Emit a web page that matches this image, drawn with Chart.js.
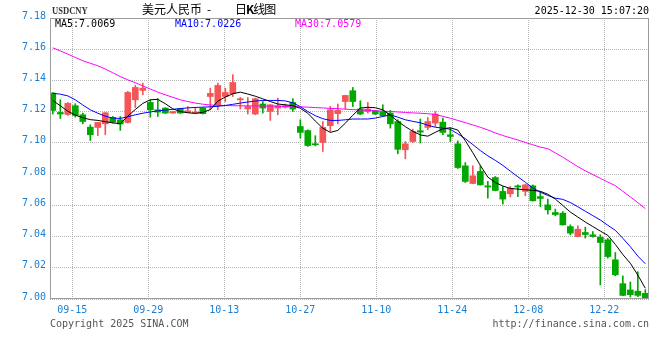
<!DOCTYPE html>
<html>
<head>
<meta charset="utf-8">
<script src="https://cdn.jsdelivr.net/npm/chart.js@4.4.1/dist/chart.umd.min.js"></script>
<style>
html,body{margin:0;padding:0;background:#fff;}
#wrap{position:relative;width:660px;height:360px;overflow:hidden;background:#fff;}
#c{position:absolute;left:0;top:0;}
.t{position:absolute;white-space:pre;font-family:"DejaVu Sans Mono",monospace;font-size:10px;line-height:10px;color:#000;}
.cjk{font-family:"Noto Sans CJK SC",sans-serif;font-size:12px;line-height:12px;}
</style>
</head>
<body>
<div id="wrap">
<canvas id="c" width="660" height="360"></canvas>
<span class="t" style="left:52px;top:5px;font-family:'Liberation Serif',serif;font-weight:bold;font-size:11px;line-height:11px;transform:scaleX(0.78);transform-origin:0 0;color:#333;">USDCNY</span>
<span class="t cjk" style="left:142px;top:3px;">美元人民币</span>
<span class="t cjk" style="left:207px;top:3px;">-</span>
<span class="t cjk" style="left:235px;top:3px;letter-spacing:-1px;">日<b>K</b>线图</span>
<span class="t" style="right:11px;top:6px;">2025-12-30 15:07:20</span>
<span class="t" style="left:55px;top:19px;color:#000;">MA5:7.0069</span>
<span class="t" style="left:175px;top:19px;color:#0000ff;">MA10:7.0226</span>
<span class="t" style="left:295px;top:19px;color:#ff00ff;">MA30:7.0579</span>
<span class="t" style="left:50px;top:319px;color:#555;">Copyright 2025 SINA.COM</span>
<span class="t" style="right:11px;top:319px;color:#555;">http://finance.sina.com.cn</span>
</div>
<script>
// ---- data ----
const dates = [
 '09-10','09-11','09-12','09-15','09-16','09-17','09-18','09-19','09-22','09-23',
 '09-24','09-25','09-26','09-29','09-30','10-01','10-02','10-03','10-06','10-07',
 '10-08','10-09','10-10','10-13','10-14','10-15','10-16','10-17','10-20','10-21',
 '10-22','10-23','10-24','10-27','10-28','10-29','10-30','10-31','11-03','11-04',
 '11-05','11-06','11-07','11-10','11-11','11-12','11-13','11-14','11-17','11-18',
 '11-19','11-20','11-21','11-24','11-25','11-26','11-27','11-28','12-01','12-02',
 '12-03','12-04','12-05','12-08','12-09','12-10','12-11','12-12','12-15','12-16',
 '12-17','12-18','12-19','12-22','12-23','12-24','12-25','12-26','12-29','12-30'
];
const opens = [
 7.1319,7.1195,7.1182,7.1238,7.1180,7.1101,7.1099,7.1122,7.1163,7.1148,
 7.1131,7.1276,7.1336,7.1259,7.1212,7.1223,7.1191,7.1219,7.1195,7.1191,
 7.1223,7.1297,7.1244,7.1297,7.1315,7.1276,7.1217,7.1185,7.1249,7.1201,
 7.1223,7.1229,7.1259,7.1105,7.1079,7.0994,7.1003,7.1110,7.1187,7.1265,
 7.1334,7.1217,7.1201,7.1206,7.1201,7.1191,7.1137,7.0956,7.1009,7.1078,
 7.1099,7.1127,7.1133,7.1052,7.0994,7.0853,7.0740,7.0817,7.0725,7.0778,
 7.0689,7.0674,7.0725,7.0689,7.0725,7.0656,7.0603,7.0554,7.0550,7.0464,
 7.0400,7.0426,7.0411,7.0396,7.0379,7.0251,7.0098,7.0058,7.0050,7.0036
];
const highs = [
 7.1322,7.1276,7.1259,7.1251,7.1191,7.1116,7.1131,7.1195,7.1169,7.1169,
 7.1330,7.1368,7.1383,7.1276,7.1283,7.1226,7.1203,7.1222,7.1233,7.1227,
 7.1225,7.1351,7.1383,7.1351,7.1437,7.1291,7.1291,7.1287,7.1265,7.1246,
 7.1287,7.1249,7.1283,7.1148,7.1084,7.1046,7.1137,7.1233,7.1249,7.1306,
 7.1355,7.1270,7.1259,7.1208,7.1244,7.1208,7.1148,7.1009,7.1088,7.1153,
 7.1163,7.1201,7.1159,7.1095,7.1013,7.0874,7.0853,7.0853,7.0753,7.0785,
 7.0721,7.0721,7.0731,7.0736,7.0731,7.0689,7.0640,7.0576,7.0560,7.0475,
 7.0469,7.0460,7.0432,7.0411,7.0389,7.0298,7.0148,7.0109,7.0175,7.0060
];
const lows = [
 7.1185,7.1156,7.1176,7.1165,7.1122,7.1015,7.1047,7.1052,7.1127,7.1080,
 7.1127,7.1227,7.1308,7.1165,7.1169,7.1188,7.1189,7.1189,7.1193,7.1189,
 7.1185,7.1212,7.1212,7.1265,7.1297,7.1217,7.1185,7.1180,7.1191,7.1144,
 7.1180,7.1223,7.1201,7.1031,7.0977,7.0981,7.0945,7.1073,7.1122,7.1217,
 7.1233,7.1180,7.1191,7.1180,7.1169,7.1095,7.0930,7.0898,7.1003,7.0999,
 7.1084,7.1105,7.1052,7.1009,7.0836,7.0746,7.0738,7.0729,7.0646,7.0693,
 7.0608,7.0653,7.0656,7.0661,7.0627,7.0592,7.0544,7.0533,7.0473,7.0411,
 7.0398,7.0390,7.0396,7.0090,7.0262,7.0148,7.0021,7.0013,7.0015,7.0000
];
const closes = [
 7.1208,7.1185,7.1253,7.1176,7.1137,7.1052,7.1131,7.1193,7.1133,7.1121,
 7.1323,7.1355,7.1351,7.1212,7.1197,7.1191,7.1201,7.1191,7.1206,7.1197,
 7.1187,7.1317,7.1368,7.1323,7.1387,7.1283,7.1233,7.1283,7.1223,7.1244,
 7.1238,7.1238,7.1217,7.1067,7.0983,7.0988,7.1099,7.1212,7.1208,7.1304,
 7.1265,7.1185,7.1217,7.1185,7.1174,7.1122,7.0959,7.0994,7.1073,7.1069,
 7.1137,7.1185,7.1067,7.1041,7.0842,7.0753,7.0789,7.0731,7.0717,7.0695,
 7.0640,7.0710,7.0717,7.0731,7.0629,7.0644,7.0571,7.0541,7.0475,7.0422,
 7.0447,7.0413,7.0400,7.0362,7.0272,7.0155,7.0023,7.0028,7.0023,7.0003
];
const ma5 = [
 7.1272,7.1238,7.1203,7.1178,7.1161,7.1149,7.1144,7.1136,7.1128,7.1123,
 7.1171,7.1214,7.1253,7.1276,7.1279,7.1251,7.1218,7.1201,7.1193,7.1189,
 7.1196,7.1213,7.1267,7.1294,7.1315,7.1325,7.1313,7.1299,7.1282,7.1265,
 7.1249,7.1244,7.1238,7.1222,7.1190,7.1140,7.1094,7.1067,7.1080,7.1126,
 7.1177,7.1223,7.1228,7.1225,7.1212,7.1178,7.1138,7.1104,7.1074,7.1051,
 7.1043,7.1068,7.1090,7.1097,7.1082,7.1014,7.0937,7.0856,7.0781,7.0746,
 7.0724,7.0708,7.0704,7.0700,7.0696,7.0690,7.0671,7.0640,7.0599,7.0557,
 7.0525,7.0493,7.0464,7.0435,7.0408,7.0350,7.0285,7.0229,7.0153,7.0069
];
const ma10 = [
 7.1318,7.1312,7.1301,7.1276,7.1243,7.1212,7.1190,7.1171,7.1159,7.1157,
 7.1167,7.1180,7.1190,7.1198,7.1205,7.1210,7.1215,7.1220,7.1224,7.1227,
 7.1229,7.1231,7.1234,7.1240,7.1247,7.1255,7.1262,7.1268,7.1272,7.1272,
 7.1272,7.1269,7.1257,7.1232,7.1201,7.1174,7.1155,7.1144,7.1144,7.1148,
 7.1153,7.1153,7.1153,7.1159,7.1169,7.1179,7.1165,7.1148,7.1138,7.1129,
 7.1113,7.1100,7.1095,7.1087,7.1058,7.1027,7.0989,7.0951,7.0917,7.0888,
 7.0856,7.0819,7.0783,7.0748,7.0711,7.0684,7.0663,7.0646,7.0638,7.0618,
 7.0591,7.0562,7.0534,7.0506,7.0472,7.0440,7.0389,7.0335,7.0275,7.0226
];
const ma30 = [
 7.1609,7.1589,7.1569,7.1547,7.1526,7.1510,7.1494,7.1473,7.1449,7.1425,
 7.1404,7.1385,7.1365,7.1345,7.1325,7.1308,7.1292,7.1276,7.1265,7.1255,
 7.1248,7.1243,7.1240,7.1239,7.1238,7.1238,7.1237,7.1237,7.1236,7.1236,
 7.1235,7.1234,7.1233,7.1231,7.1229,7.1226,7.1224,7.1221,7.1219,7.1216,
 7.1213,7.1211,7.1209,7.1206,7.1203,7.1201,7.1198,7.1195,7.1192,7.1190,
 7.1187,7.1182,7.1170,7.1158,7.1144,7.1130,7.1115,7.1100,7.1083,7.1064,
 7.1047,7.1033,7.1019,7.1003,7.0988,7.0973,7.0963,7.0936,7.0908,7.0878,
 7.0848,7.0821,7.0797,7.0773,7.0749,7.0726,7.0690,7.0654,7.0617,7.0579
];
const yTicks = [7.00,7.02,7.04,7.06,7.08,7.10,7.12,7.14,7.16,7.18];
const xTickLabels = ['09-15','09-29','10-13','10-27','11-10','11-24','12-08','12-22'];

// ---- styling / layout ----
const RED = 'rgb(242,86,86)';
const GREEN = 'rgb(0,168,0)';
const AXIS_BLUE = '#1a7fd4';
const GRID = '#b4b4b4';
const FRAME = '#9c9c9c';
// sina spaces its date grid a little wider than the candles (76px per 10 candles)
const GRID_DRIFT = 0.1333;
const tickPos = xTickLabels.map((d, k) => dates.indexOf(d) - 0.4 + k * GRID_DRIFT);

const idx = dates.map((d, i) => i);
const candleColor = ctx => (closes[ctx.dataIndex] >= opens[ctx.dataIndex] ? RED : GREEN);
const lineDs = (label, arr, color, order) => ({
  type: 'line', label, data: idx.map(i => ({x: i, y: arr[i]})),
  borderColor: color, borderWidth: 1, pointRadius: 0, tension: 0, fill: false, order
});

const framePlugin = {
  id: 'frame',
  afterDraw(chart) {
    const {ctx, chartArea: a} = chart;
    ctx.save();
    ctx.strokeStyle = FRAME;
    ctx.lineWidth = 1;
    ctx.strokeRect(Math.round(a.left) + 0.5, Math.round(a.top) + 0.5,
                   Math.round(a.right - a.left) - 1, Math.round(a.bottom - a.top) - 1);
    ctx.restore();
  }
};

new Chart(document.getElementById('c'), {
  type: 'bar',
  data: {
    datasets: [
      lineDs('MA5', ma5, '#000000', 0),
      lineDs('MA10', ma10, '#0000ff', 1),
      lineDs('MA30', ma30, '#ff00ff', 2),
      {type: 'bar', label: 'body', data: idx.map(i => ({x: i, y: [opens[i], closes[i]]})),
       backgroundColor: candleColor, borderWidth: 0, barThickness: 6, minBarLength: 1,
       grouped: false, order: 3},
      {type: 'bar', label: 'wick', data: idx.map(i => ({x: i, y: [lows[i], highs[i]]})),
       backgroundColor: candleColor, borderWidth: 0, barThickness: 1, minBarLength: 1,
       grouped: false, order: 4}
    ]
  },
  options: {
    responsive: false,
    animation: false,
    devicePixelRatio: 1,
    layout: {padding: {top: 18, right: 11, left: 0, bottom: 0}},
    plugins: {legend: {display: false}, tooltip: {enabled: false}, title: {display: false}},
    scales: {
      x: {
        type: 'linear', min: -0.373, max: 79.49, offset: false,
        afterBuildTicks: s => { s.ticks = tickPos.map(v => ({value: v})); },
        afterFit: s => { s.height = 61; },
        grid: {color: GRID, lineWidth: 1, drawTicks: false, offset: false},
        border: {display: false, dash: [1, 1]},
        ticks: {autoSkip: false, maxRotation: 0, minRotation: 0, padding: 5, color: AXIS_BLUE,
                font: {family: 'DejaVu Sans Mono', size: 10},
                callback: (v, i) => xTickLabels[i]}
      },
      y: {
        type: 'linear', min: 7.00, max: 7.18,
        afterBuildTicks: s => { s.ticks = yTicks.map(v => ({value: v})); },
        afterFit: s => { s.width = 50; },
        grid: {color: GRID, lineWidth: 1, drawTicks: false},
        border: {display: false, dash: [1, 1]},
        ticks: {padding: 4, labelOffset: -2, color: AXIS_BLUE,
                font: {family: 'DejaVu Sans Mono', size: 10},
                callback: v => Number(v).toFixed(2)}
      }
    }
  },
  plugins: [framePlugin]
});
</script>
</body>
</html>
